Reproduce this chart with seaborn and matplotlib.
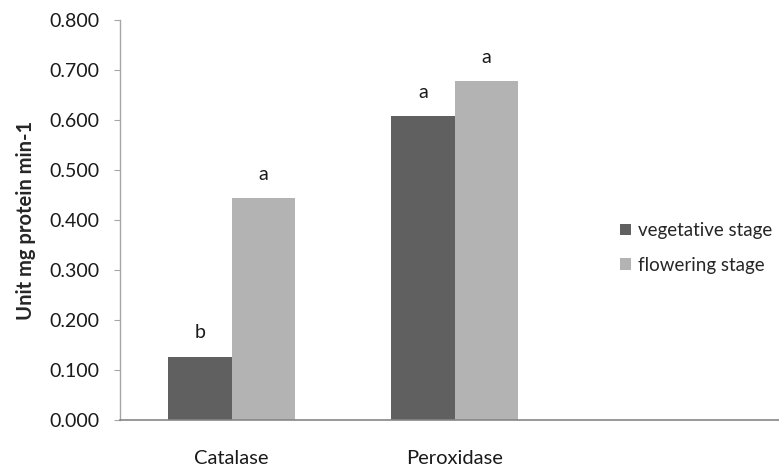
import numpy as np
import pandas as pd
import seaborn as sns
import matplotlib.pyplot as plt
from matplotlib.ticker import FormatStrFormatter

# values
categories = ["Catalase", "Peroxidase"]
vegetative = [0.127, 0.608]
flowering = [0.444, 0.678]
letters_veg = ["b", "a"]
letters_flow = ["a", "a"]
series_names = ["vegetative stage", "flowering stage"]

df = pd.DataFrame({
    "enzyme": categories * 2,
    "value": vegetative + flowering,
    "stage": [series_names[0]] * 2 + [series_names[1]] * 2,
})

sns.set_style("white")
plt.rcParams["font.family"] = ["Lato", "DejaVu Sans"]

W, H = 779, 466
fig = plt.figure(figsize=(W / 100, H / 100), dpi=100)
ax = fig.add_axes([120 / W, (H - 420) / H, (W - 120) / W, 400 / H])

sns.barplot(data=df, x="enzyme", y="value", hue="stage",
            palette=["#606060", "#b3b3b3"], width=0.566,
            saturation=1, linewidth=0, ax=ax)

# significance letters above the bars
for cont, labs in zip(ax.containers, [letters_veg, letters_flow]):
    ax.bar_label(cont, labels=labs, padding=11, fontsize=14, color="#1a1a1a")

ax.set_ylim(0, 0.8)
ax.set_yticks(np.arange(0, 0.81, 0.1))
ax.yaxis.set_major_formatter(FormatStrFormatter("%.3f"))
ax.set_xlim(-0.5, 2.455)

for s in ["top", "right"]:
    ax.spines[s].set_visible(False)
ax.spines["left"].set_color("#a6a6a6")
ax.spines["bottom"].set_color("#868686")
ax.spines["left"].set_linewidth(1)
ax.spines["bottom"].set_linewidth(1.2)

ax.tick_params(axis="y", left=True, length=4.3, width=0.8, color="#a6a6a6",
               pad=10.5, labelsize=14, labelcolor="#1a1a1a")
ax.tick_params(axis="x", bottom=False, pad=18, labelsize=14.5, labelcolor="#1a1a1a")

ax.set_xlabel("")
ax.set_ylabel("Unit mg protein min-1", fontsize=14.5, fontweight="bold")
ax.yaxis.set_label_coords(-84 / (W - 120), 0.5)

handles, labels = ax.get_legend_handles_labels()
ax.legend(handles, labels, loc="center left", bbox_to_anchor=(612 / W, (H - 248) / H),
          bbox_transform=fig.transFigure, frameon=False, fontsize=13.5,
          handlelength=0.6, handleheight=0.6, handletextpad=0.4,
          labelspacing=0.95, borderaxespad=0)

fig.savefig("out.png", dpi=100)
